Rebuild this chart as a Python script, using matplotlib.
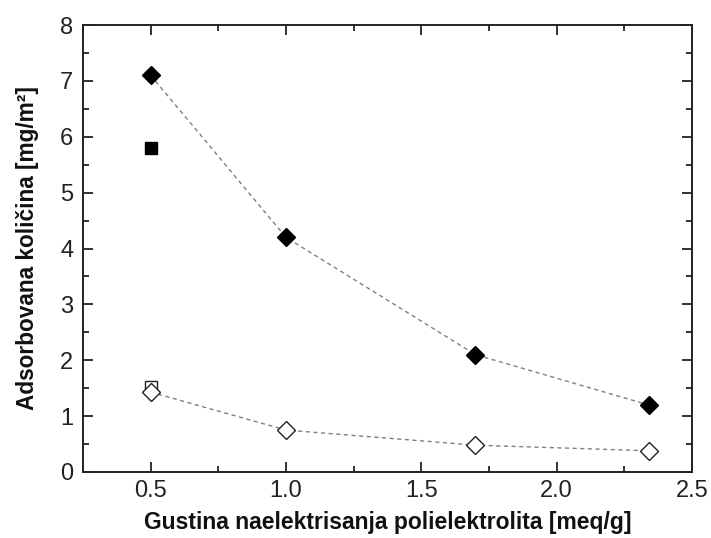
import matplotlib
matplotlib.use("Agg")
import matplotlib.pyplot as plt
from matplotlib.ticker import MultipleLocator

# Gustina naelektrisanja [meq/g]
gustina = [0.5, 1.0, 1.7, 2.34]
# Adsorbovana kolicina [mg/m2]
pun_romb = [7.1, 4.2, 2.1, 1.2]
prazan_romb = [1.43, 0.75, 0.48, 0.38]
kvadrat_x = [0.5]
pun_kvadrat = [5.8]
prazan_kvadrat = [1.52]

plt.rcParams["font.family"] = ["Liberation Sans", "DejaVu Sans"]

fig = plt.figure(figsize=(7.11, 5.38), dpi=100)
ax = fig.add_axes([0.1167, 0.1227, 0.8566, 0.8308])

# puni i prazni rombovi, spojeni isprekidanom linijom
ax.plot(gustina, pun_romb, linestyle=(0, (3, 2.5)), color="#808080", linewidth=1.0,
        marker="D", markersize=8.8, markerfacecolor="black",
        markeredgecolor="black", zorder=3)
ax.plot(gustina, prazan_romb, linestyle=(0, (3, 2.5)), color="#808080", linewidth=1.0,
        marker="D", markersize=8.8, markerfacecolor="white",
        markeredgecolor="#222222", markeredgewidth=1.0, zorder=3)
# kvadrati
ax.plot(kvadrat_x, pun_kvadrat, linestyle="none", marker="s", markersize=9,
        markerfacecolor="black", markeredgecolor="black", zorder=4)
ax.plot(kvadrat_x, prazan_kvadrat, linestyle="none", marker="s", markersize=9,
        markerfacecolor="none", markeredgecolor="#222222", markeredgewidth=1.0, zorder=2)

ax.set_xlim(0.25, 2.5)
ax.set_ylim(0, 8)
ax.xaxis.set_major_locator(MultipleLocator(0.5))
ax.xaxis.set_minor_locator(MultipleLocator(0.25))
ax.yaxis.set_major_locator(MultipleLocator(1))
ax.yaxis.set_minor_locator(MultipleLocator(0.5))
ax.xaxis.set_major_formatter(plt.FormatStrFormatter("%.1f"))

ax.tick_params(which="both", direction="in", top=True, right=True,
               labelsize=17, width=1.3, colors="#222222")
ax.tick_params(axis="x", pad=6)
ax.tick_params(axis="y", pad=7)
ax.tick_params(which="major", length=7)
ax.tick_params(which="minor", length=4)
for s in ax.spines.values():
    s.set_linewidth(1.4)
    s.set_color("#222222")

ax.set_xlabel("Gustina naelektrisanja polielektrolita [meq/g]",
              fontsize=16.5, fontweight="bold", labelpad=6, color="#111111")
ax.set_ylabel("Adsorbovana količina [mg/m²]",
              fontsize=16.3, fontweight="bold", labelpad=15, color="#111111")

fig.savefig("out.png", dpi=100)
